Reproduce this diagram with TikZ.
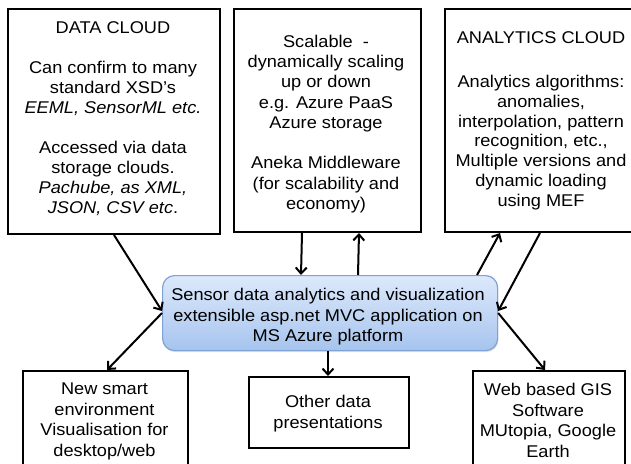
\documentclass[tikz,border=0pt]{standalone}
\usepackage{fontspec}
\setmainfont[FakeStretch=1.07]{Liberation Sans}
\usetikzlibrary{arrows.meta,shadows}
\definecolor{cbord}{HTML}{7FA2D4}
\definecolor{ctop}{HTML}{DDE9FB}
\definecolor{cbot}{HTML}{A6C4EE}
\tikzset{
  box/.style={draw=black, line width=2pt, anchor=north west, inner sep=0pt, fill=white},
  txt/.style={anchor=north, align=center, inner sep=0pt, font=\fontsize{17}{20}\selectfont},
  hub/.style={draw=cbord, line width=1.2pt, rounded corners=12pt, top color=ctop, bottom color=cbot, anchor=north west, inner sep=0pt,
    drop shadow={opacity=0.25, shadow xshift=0.8pt, shadow yshift=-1.5pt}},
  arr/.style={line width=2pt, -{Straight Barb[length=6pt,width=11pt,line width=2pt]}}
}
\begin{document}
\begin{tikzpicture}[x=1pt,y=-1pt]
\useasboundingbox (0,0) rectangle (631,463);
\fill[white] (0,0) rectangle (631,463);
% boxes
\node[box, minimum width=212pt, minimum height=225pt] (tl) at (7,8) {};
\node[box, minimum width=187pt, minimum height=223pt] (tm) at (233,8) {};
\node[box, minimum width=195pt, minimum height=223pt] (tr) at (444,8) {};
\node[hub, minimum width=335pt, minimum height=75pt] (hub) at (162,275) {};
\node[box, minimum width=165pt, minimum height=110pt] (bl) at (22,370) {};
\node[box, minimum width=160pt, minimum height=71pt] (bm) at (248,376) {};
\node[box, minimum width=152pt, minimum height=110pt] (br) at (472,370) {};
% texts
\node[txt] (tlt) at (113,21.3) {DATA CLOUD\\[20pt]
Can confirm to many\\ standard XSD’s\\ \textit{EEML, SensorML etc.}\\[20pt]
Accessed via data\\ storage clouds.\\ \textit{Pachube, as XML,}\\ \textit{JSON, CSV etc}.};
\node[txt, font=\fontsize{17}{20.3}\selectfont] (tmt) at (326,34.6) {Scalable\ \ -\\ dynamically scaling\\ up or down\\ e.g. Azure PaaS\\ Azure storage\\[20.3pt]
Aneka Middleware\\ (for scalability and\\ economy)};
\node[txt, font=\fontsize{17}{19.7}\selectfont] (trt) at (541,31.8) {ANALYTICS CLOUD\\[24.3pt]
Analytics algorithms:\\ anomalies,\\ interpolation, pattern\\ recognition, etc.,\\ Multiple versions and\\ dynamic loading\\ using MEF};
\node[txt, font=\fontsize{17}{20.5}\selectfont] (hubt) at (328,288) {Sensor data analytics and visualization\\ extensible asp.net MVC application on\\ MS Azure platform};
\node[txt, font=\fontsize{17}{20.5}\selectfont] (blt) at (104.5,383) {New smart\\ environment\\ Visualisation for\\ desktop/web};
\node[txt, font=\fontsize{17}{20.5}\selectfont] (bmt) at (328,395) {Other data\\ presentations};
\node[txt, font=\fontsize{17}{20.5}\selectfont] (brt) at (548,383) {Web based GIS\\ Software\\ MUtopia, Google\\ Earth};
% arrows
\draw[arr] (tl.south) -- ([yshift=-36pt]hub.north west);
\draw[arr] ([yshift=-38pt]hub.north west) -- ([xshift=85pt]bl.north west);
\draw[arr] ([xshift=-25.5pt]tm.south) -- ([xshift=139pt]hub.north west);
\draw[arr] ([xshift=196pt]hub.north west) -- ([xshift=31.5pt]tm.south);
\draw[arr] ([xshift=315pt]hub.north west) -- ([xshift=56pt]tr.south west);
\draw[arr] ([xshift=96pt]tr.south west) -- ([yshift=-36pt]hub.north east);
\draw[arr] ([yshift=-38pt]hub.north east) -- ([xshift=73pt]br.north west);
\draw[arr] (hub.south -| bmt) -- (bm.north -| bmt);
\end{tikzpicture}
\end{document}
